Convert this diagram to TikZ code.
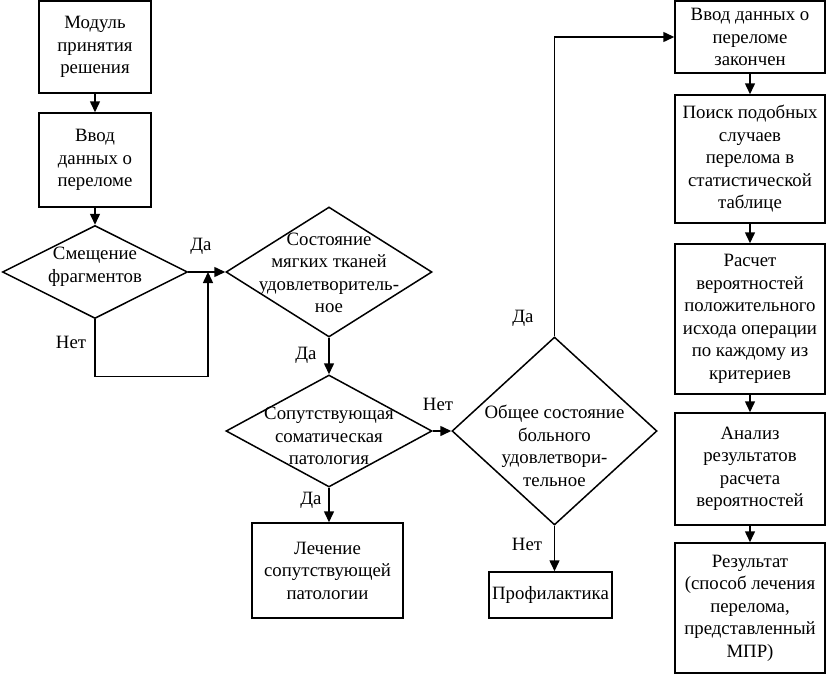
\documentclass[tikz,border=0pt]{standalone}
\usepackage{fontspec}
\setmainfont{Liberation Serif}
\usetikzlibrary{shapes.geometric,arrows.meta}
\newcommand\dfont{\fontsize{18.8}{22.5}\selectfont}
\begin{document}
\begin{tikzpicture}[x=1pt,y=-1pt,
  box/.style={draw,line width=1.5pt,inner sep=0pt,align=center,font=\dfont},
  dia/.style={draw,shape=diamond,line width=1.5pt,inner sep=0pt},
  txt/.style={inner sep=0pt,align=center,font=\dfont},
  lbl/.style={inner sep=0pt,font=\dfont},
  arr/.style={line width=1.5pt,-{Triangle[length=11pt,width=10pt]}},
  ln/.style={line width=1.5pt}]
\useasboundingbox (0,0) rectangle (827,677);
% left column
\node[box,minimum width=112pt,minimum height=92pt] (b1) at (95,47) {Модуль\\принятия\\решения};
\node[box,minimum width=112pt,minimum height=94pt] (b2) at (95,160) {Ввод\\данных о\\переломе};
\node[dia,minimum width=185pt,minimum height=93pt] (d1) at (95,272) {};
\node[txt] (d1t) at (95,267) {Смещение\\фрагментов};
\node[dia,minimum width=206pt,minimum height=130pt] (d2) at (329,272) {};
\node[txt] (d2t) at (329,273) {Состояние\\мягких тканей\\удовлетворитель-\\ное};
\node[dia,minimum width=206pt,minimum height=112pt] (d3) at (329,431) {};
\node[txt] (d3t) at (329,436) {Сопутствующая\\соматическая\\патология};
\node[dia,minimum width=205pt,minimum height=188pt] (d4) at (554.5,431) {};
\node[txt] (d4t) at (554.5,446) {Общее состояние\\больного\\удовлетвори-\\тельное};
\node[box,minimum width=151pt,minimum height=95pt] (lech) at (327.5,570.5) {Лечение\\сопутствующей\\патологии};
\node[box,minimum width=123pt,minimum height=46pt] (prof) at (550.5,595) {Профилактика};
% right column
\node[box,minimum width=150pt,minimum height=72pt] (r1) at (750,37) {Ввод данных о\\переломе\\закончен};
\node[box,minimum width=150pt,minimum height=128pt] (r2) at (750,159) {Поиск подобных\\случаев\\перелома в\\статистической\\таблице};
\node[box,minimum width=150pt,minimum height=150pt] (r3) at (750,319) {Расчет\\вероятностей\\положительного\\исхода операции\\по каждому из\\критериев};
\node[box,minimum width=150pt,minimum height=112pt] (r4) at (750,469) {Анализ\\результатов\\расчета\\вероятностей};
\node[box,minimum width=150pt,minimum height=130pt] (r5) at (750,608) {Результат\\(способ лечения\\перелома,\\представленный\\МПР)};
% connectors
\draw[arr] (b1) -- (b2);
\draw[arr] (b2) -- (d1.north);
\draw[arr] (d1.east) -- (d2.west);
\coordinate (j) at (208,272);
\draw[arr] (d1.south) -- ++(0,57) -| (j);
\draw[arr] (d2.south) -- (d3.north);
\draw[arr] (d3.east) -- (d4.west);
\draw[arr] (d3.south) -- (d3.south |- lech.north);
\draw[arr] (d4.south) -- (d4.south |- prof.north);
\draw[arr] (d4.north) |- (r1.west);
\draw[arr] (r1) -- (r2);
\draw[arr] (r2) -- (r3);
\draw[arr] (r3) -- (r4);
\draw[arr] (r4) -- (r5);
% labels
\node[lbl] (l1) at (201,246) {Да};
\node[lbl] (l2) at (71,342) {Нет};
\node[lbl] (l3) at (306,355) {Да};
\node[lbl] (l4) at (438,404) {Нет};
\node[lbl] (l5) at (311,500) {Да};
\node[lbl] (l6) at (527,544) {Нет};
\node[lbl] (l7) at (523,318) {Да};
\end{tikzpicture}
\end{document}
